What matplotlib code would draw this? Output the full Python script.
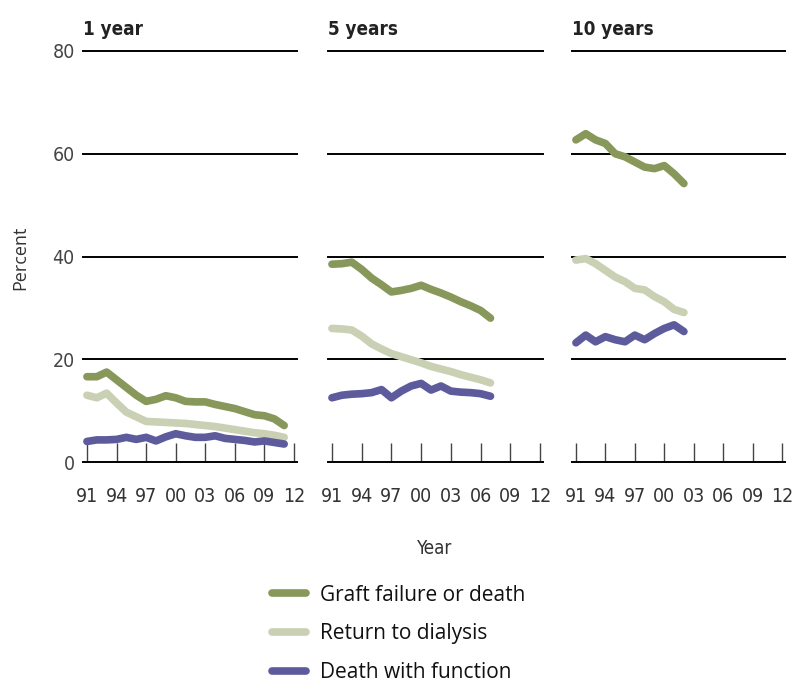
import matplotlib
matplotlib.use("Agg")
import matplotlib.pyplot as plt
from matplotlib.lines import Line2D
from matplotlib import font_manager as fm

# ---- data ----
panel_titles = ["1 year", "5 years", "10 years"]
tick_years = [1991, 1994, 1997, 2000, 2003, 2006, 2009, 2012]
tick_labels = ["91", "94", "97", "00", "03", "06", "09", "12"]
y_ticks = [0, 20, 40, 60, 80]
series_names = ["Graft failure or death", "Return to dialysis", "Death with function"]
series_colors = ["#87985a", "#c9d0b3", "#5d5b9b"]

years_1y = list(range(1991, 2012))
graft_1y = [16.6, 16.6, 17.5, 16.0, 14.5, 13.0, 11.8, 12.2, 12.9, 12.5, 11.8, 11.7, 11.7, 11.2, 10.8, 10.4, 9.8, 9.2, 9.0, 8.4, 7.1]
dial_1y = [13.0, 12.5, 13.4, 11.5, 9.7, 8.8, 7.9, 7.8, 7.7, 7.6, 7.5, 7.3, 7.1, 6.9, 6.6, 6.3, 6.0, 5.7, 5.5, 5.2, 4.8]
death_1y = [4.0, 4.3, 4.3, 4.4, 4.8, 4.4, 4.8, 4.1, 4.9, 5.5, 5.1, 4.8, 4.8, 5.1, 4.6, 4.4, 4.2, 3.9, 4.1, 3.8, 3.5]

years_5y = list(range(1991, 2008))
graft_5y = [38.5, 38.6, 38.9, 37.5, 35.8, 34.5, 33.1, 33.4, 33.8, 34.4, 33.6, 32.9, 32.1, 31.2, 30.4, 29.5, 28.0]
dial_5y = [26.0, 25.9, 25.7, 24.5, 23.0, 22.0, 21.1, 20.5, 19.9, 19.3, 18.6, 18.1, 17.6, 17.0, 16.5, 16.0, 15.4]
death_5y = [12.5, 13.0, 13.2, 13.3, 13.5, 14.1, 12.5, 13.8, 14.8, 15.3, 14.0, 14.8, 13.8, 13.6, 13.5, 13.3, 12.8]

years_10y = list(range(1991, 2003))
graft_10y = [62.7, 63.9, 62.7, 62.0, 60.0, 59.4, 58.4, 57.4, 57.1, 57.7, 56.1, 54.2]
dial_10y = [39.3, 39.6, 38.6, 37.3, 36.0, 35.1, 33.8, 33.5, 32.2, 31.2, 29.7, 29.1]
death_10y = [23.2, 24.7, 23.4, 24.4, 23.8, 23.4, 24.7, 23.8, 25.0, 26.0, 26.7, 25.4]

panels = [
    (years_1y, [graft_1y, dial_1y, death_1y]),
    (years_5y, [graft_5y, dial_5y, death_5y]),
    (years_10y, [graft_10y, dial_10y, death_10y]),
]

# condensed font if available
cond_path = fm.findfont(fm.FontProperties(family="DejaVu Sans", stretch="condensed"))
if "Condensed" in cond_path:
    NARROW = dict(family="DejaVu Sans", stretch="condensed")
    NARROW_B = dict(family="DejaVu Sans", stretch="condensed", weight="bold")
else:
    NARROW = dict(family="DejaVu Sans")
    NARROW_B = dict(family="DejaVu Sans", weight="bold")

W, H = 792, 684
fig = plt.figure(figsize=(W / 100, H / 100), dpi=100)

lefts = [83, 328, 572]
widths = [214, 215, 213]
y0px, y80px = 462, 51
ax_bottom = 1 - y0px / H
ax_height = (y0px - y80px) / H

for i, (years, vals) in enumerate(panels):
    ax = fig.add_axes([lefts[i] / W, ax_bottom, widths[i] / W, ax_height])
    ax.set_xlim(1990.6, 2012.3)
    ax.set_ylim(0, 80)
    for g in [20, 40, 60, 80]:
        ax.axhline(g, color="black", lw=1.4, zorder=1, clip_on=False)
    for s, c in zip(vals, series_colors):
        ax.plot(years, s, color=c, lw=5.5, solid_capstyle="round",
                solid_joinstyle="round", zorder=3)
    for side in ["top", "right", "left"]:
        ax.spines[side].set_visible(False)
    ax.spines["bottom"].set_linewidth(1.4)
    ax.set_xticks(tick_years)
    ax.set_xticklabels(tick_labels, fontproperties=fm.FontProperties(**NARROW, size=14), color="#333333")
    ax.tick_params(axis="x", direction="in", length=14, width=1.0, color="#444444", pad=18)
    ax.set_yticks(y_ticks)
    if i == 0:
        ax.set_yticklabels([str(v) for v in y_ticks], fontproperties=fm.FontProperties(**NARROW, size=14),
                           color="#444444")
        ax.tick_params(axis="y", length=0, pad=6)
    else:
        ax.tick_params(axis="y", length=0, labelleft=False)
    ax.text(0.0, 1.03, panel_titles[i], transform=ax.transAxes, ha="left", va="bottom",
            fontproperties=fm.FontProperties(**NARROW_B, size=13.5), color="#222222")

fig.text(20 / W, 1 - 258 / H, "Percent", rotation=90, ha="center", va="center",
         fontsize=13, color="#333333", fontfamily=["Open Sans", "DejaVu Sans"])
fig.text(435 / W, 1 - 549 / H, "Year", ha="center", va="center",
         fontproperties=fm.FontProperties(**NARROW, size=13.5), color="#333333")

handles = [Line2D([0], [0], color=c, lw=5.5, solid_capstyle="round") for c in series_colors]
leg = fig.legend(handles, series_names, loc="upper left", bbox_to_anchor=(253 / W, 1 - 566 / H),
                 frameon=False, handlelength=1.65, handletextpad=0.65, labelspacing=0.85,
                 prop={"family": ["Open Sans", "DejaVu Sans"], "size": 15})
for t in leg.get_texts():
    t.set_color("#111111")

fig.savefig("out.png", dpi=100, facecolor="white")
